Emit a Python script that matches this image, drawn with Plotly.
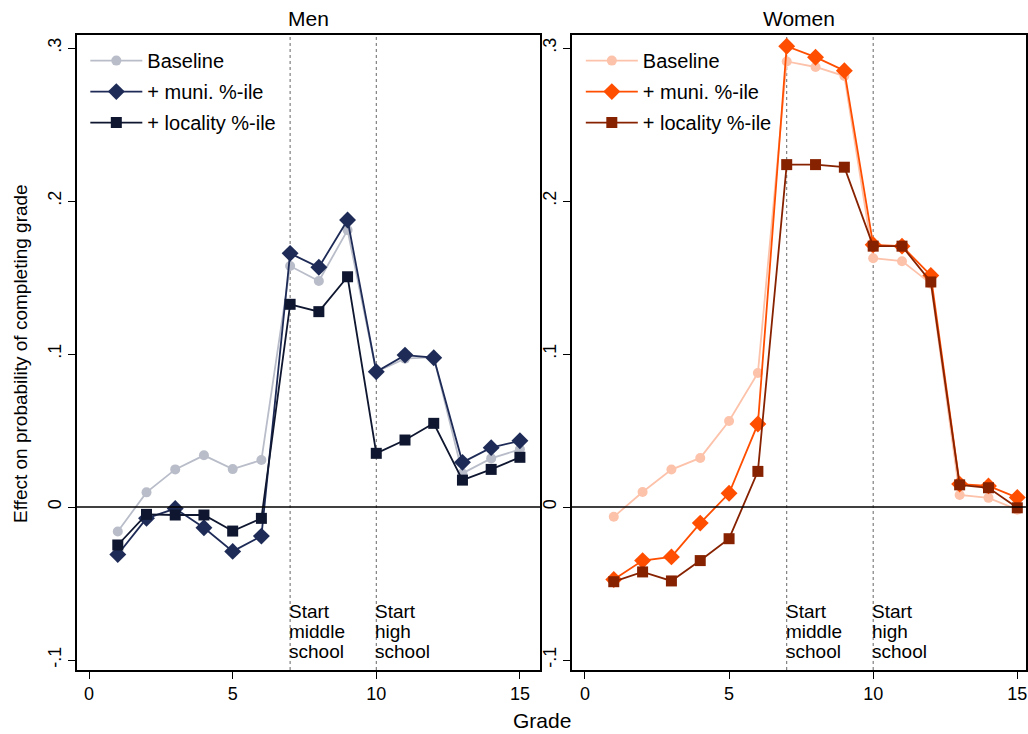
import plotly.graph_objects as go

grades = list(range(1, 16))

men_baseline = [-0.016, 0.0096, 0.0246, 0.0338, 0.0248, 0.0307, 0.1575, 0.1477, 0.181,
                0.0884, 0.097, 0.098, 0.022, 0.0318, 0.0377]
men_muni = [-0.031, -0.0074, -0.001, -0.0135, -0.029, -0.019, 0.1658, 0.1567, 0.1876,
            0.0884, 0.0993, 0.0976, 0.0292, 0.0388, 0.0433]
men_locality = [-0.0248, -0.0048, -0.0052, -0.0052, -0.0157, -0.0074, 0.1325, 0.1277, 0.1505,
                0.0351, 0.0438, 0.0547, 0.0176, 0.0246, 0.0325]

women_baseline = [-0.0064, 0.0098, 0.0245, 0.0321, 0.0562, 0.0876, 0.2912, 0.2876, 0.2817,
                  0.1626, 0.1607, 0.146, 0.0079, 0.006, -0.0017]
women_muni = [-0.0474, -0.035, -0.0326, -0.0105, 0.009, 0.0543, 0.3012, 0.294, 0.2852,
              0.1714, 0.1705, 0.1514, 0.015, 0.0138, 0.0062]
women_locality = [-0.0488, -0.0424, -0.0483, -0.035, -0.0207, 0.0233, 0.2238, 0.2238, 0.2221,
                  0.1705, 0.1705, 0.1471, 0.0145, 0.0126, -0.0005]

series_names = ["Baseline", "+ muni. %-ile", "+ locality %-ile"]
men_colors = ["#b9bdc9", "#1e2b57", "#0f1730"]
women_colors = ["#fdc2aa", "#ff4e00", "#872200"]
symbols = ["circle", "diamond", "square"]
sizes = [10, 13, 11]

x_ticks = [0, 5, 10, 15]
y_ticks = [-0.1, 0, 0.1, 0.2, 0.3]
y_ticklabels = ["-.1", "0", ".1", ".2", ".3"]
panel_titles = ["Men", "Women"]
school_lines = [7, 10]
school_labels = [["Start", "middle", "school"], ["Start", "high", "school"]]

FONT = "Liberation Sans, Arial, Helvetica, sans-serif"

fig = go.Figure()

for i, (vals, name, col, sym, sz) in enumerate(zip([men_baseline, men_muni, men_locality],
                                                   series_names, men_colors, symbols, sizes)):
    fig.add_trace(go.Scatter(x=grades, y=vals, name=name, mode="lines+markers",
                             line=dict(color=col, width=1.8),
                             marker=dict(symbol=sym, size=sz, color=col),
                             legendgroup="m%d" % i,
                             xaxis="x", yaxis="y", legend="legend"))

for i, (vals, name, col, sym, sz) in enumerate(zip([women_baseline, women_muni, women_locality],
                                                   series_names, women_colors, symbols, sizes)):
    fig.add_trace(go.Scatter(x=grades, y=vals, name=name, mode="lines+markers",
                             line=dict(color=col, width=1.8),
                             marker=dict(symbol=sym, size=sz, color=col),
                             legendgroup="w%d" % i,
                             xaxis="x2", yaxis="y2", legend="legend2"))

axis_common = dict(showgrid=False, zeroline=False, showline=True, linecolor="black",
                   linewidth=1.5, mirror=True, ticks="outside", ticklen=7,
                   tickcolor="black", tickfont=dict(size=18, color="black", family=FONT))

ydom = [0.0872, 0.9523]
legend_common = dict(xanchor="left", yanchor="top", bgcolor="rgba(0,0,0,0)",
                     font=dict(size=20, family=FONT, color="black"), itemwidth=52,
                     tracegroupgap=2)
fig.update_layout(
    width=1028, height=734,
    margin=dict(l=0, r=0, t=0, b=0),
    paper_bgcolor="white", plot_bgcolor="white",
    font=dict(family=FONT, color="black"),
    xaxis=dict(domain=[0.0749, 0.5253], range=[-0.42, 15.7], tickvals=x_ticks,
               anchor="y", **axis_common),
    yaxis=dict(domain=ydom, range=[-0.1065, 0.3085], tickvals=y_ticks,
               ticktext=y_ticklabels, tickangle=-90, anchor="x", **axis_common),
    xaxis2=dict(domain=[0.5564, 0.998], range=[-0.45, 15.3], tickvals=x_ticks,
                anchor="y2", **axis_common),
    yaxis2=dict(domain=ydom, range=[-0.1065, 0.3085], tickvals=y_ticks,
                ticktext=y_ticklabels, tickangle=-90, anchor="x2", **axis_common),
    legend=dict(x=0.083, y=0.944, **legend_common),
    legend2=dict(x=0.565, y=0.944, **legend_common),
)

shapes = []
annotations = []
line_centers = [-0.0683, -0.0814, -0.0945]
for xa, ya in [("x", "y"), ("x2", "y2")]:
    shapes.append(dict(type="line", xref=xa + " domain", yref=ya, x0=0, x1=1, y0=0, y1=0,
                       line=dict(color="black", width=1.5)))
    for xv, lab in zip(school_lines, school_labels):
        shapes.append(dict(type="line", xref=xa, yref=ya + " domain", x0=xv, x1=xv, y0=0, y1=1,
                           line=dict(color="#666666", width=1, dash="dot"), layer="below"))
        for word, yc in zip(lab, line_centers):
            annotations.append(dict(xref=xa, yref=ya, x=xv, y=yc, text=word, showarrow=False,
                                    xanchor="left", yanchor="middle", align="left", xshift=-3,
                                    font=dict(size=19, family=FONT, color="black")))

for title, xc in zip(panel_titles, [0.3001, 0.7772]):
    annotations.append(dict(xref="paper", yref="paper", x=xc, y=(734 - 19) / 734, text=title,
                            showarrow=False, xanchor="center", yanchor="middle",
                            font=dict(size=21, family=FONT, color="black")))

annotations.append(dict(xref="paper", yref="paper", x=0.527, y=(734 - 720) / 734, text="Grade",
                        showarrow=False, xanchor="center", yanchor="middle",
                        font=dict(size=21, family=FONT, color="black")))
annotations.append(dict(xref="paper", yref="paper", x=20 / 1028, y=(734 - 354) / 734,
                        text="Effect on probability of completing grade", textangle=-90,
                        showarrow=False, xanchor="center", yanchor="middle",
                        font=dict(size=19, family=FONT, color="black")))

fig.update_layout(shapes=shapes, annotations=annotations)
fig.write_html("out.html")
